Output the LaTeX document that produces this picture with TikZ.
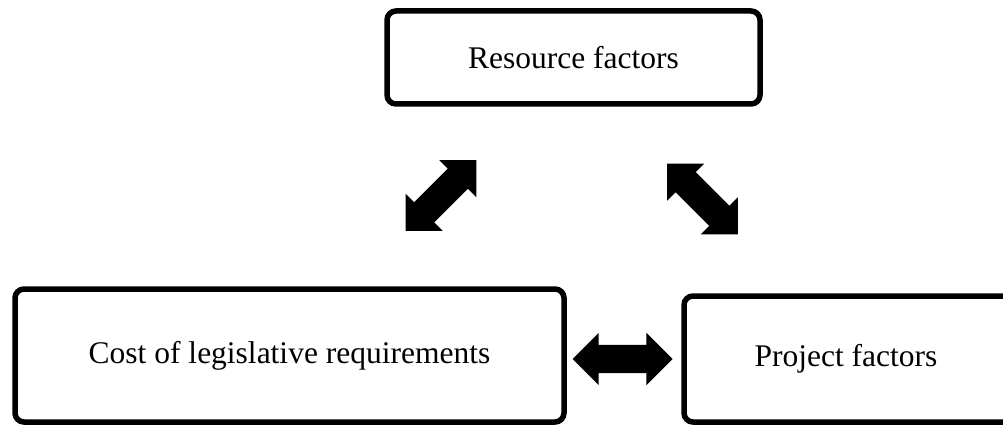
\documentclass[tikz,border=0pt]{standalone}
\usepackage{fontspec}
\setmainfont{Liberation Serif}
\usetikzlibrary{shapes.arrows}
\begin{document}
\begin{tikzpicture}[x=1pt,y=-1pt,
  box/.style={draw=black, line width=5.5pt, rounded corners=9pt, fill=white,
    inner sep=0pt, font=\fontsize{31.5}{36}\selectfont},
  blockarrow/.style={double arrow, fill=black, draw=none, inner xsep=0pt,
    inner ysep=14pt, double arrow head extend=12pt, minimum height=100pt}]
\useasboundingbox (0,0) rectangle (1003,425);
\clip (0,0) rectangle (1003,425);
\node[box, minimum width=373pt, minimum height=93pt] (res) at (573.5,57.5) {Resource factors};
\node[box, minimum width=549pt, minimum height=133pt] (cost) at (289.5,355.5) {Cost of legislative requirements};
\node[box, minimum width=350pt, minimum height=126pt] (proj) at (859,359) {Project factors\hspace*{26pt}};
\node[blockarrow, rotate=45] (arrL) at (441,195.5) {};
\node[blockarrow, rotate=-45] (arrR) at (702.5,199) {};
\node[blockarrow] (arrB) at (622.5,359) {};
\end{tikzpicture}
\end{document}
